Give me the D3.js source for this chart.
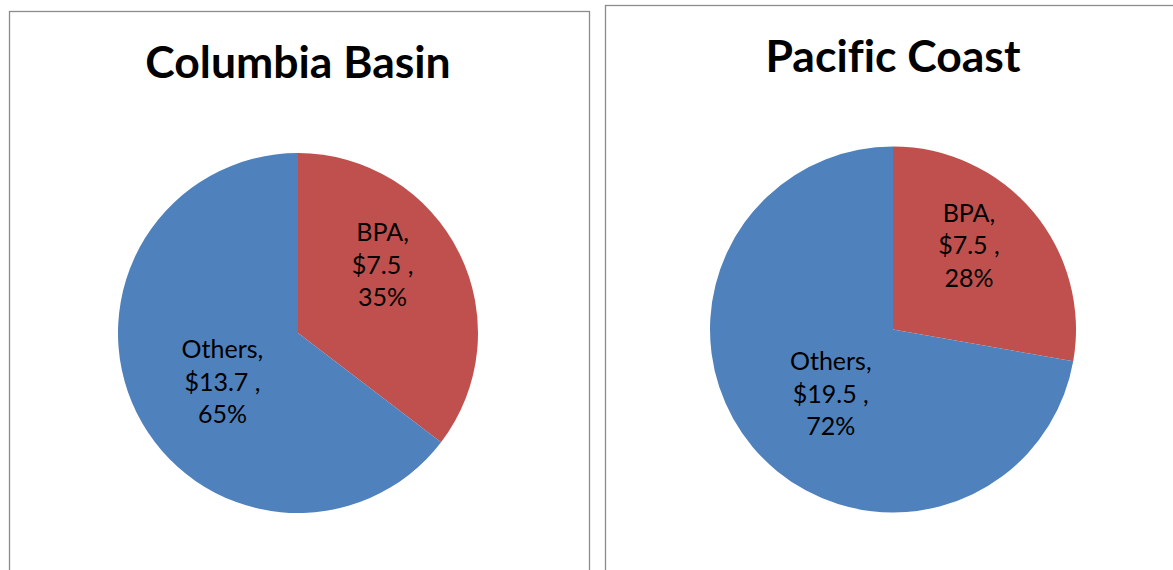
<!DOCTYPE html>
<html>
<head>
<meta charset="utf-8">
<script src="https://cdn.jsdelivr.net/npm/d3@7"></script>
<style>
body{margin:0;background:#fff;}
svg{display:block;}
</style>
</head>
<body>
<svg id="chart" width="1173" height="570"></svg>
<script>
// values ($ millions)
var titles = ["Columbia Basin", "Pacific Coast"];
var categories = ["BPA", "Others"];
var basinValues = [7.5, 13.7];
var coastValues = [7.5, 19.5];
var colors = ["#C0504D", "#4F81BD"];

var svg = d3.select("#chart");

// panel layout (pixels)
var panels = [
	{title: titles[0], values: basinValues, box: [9.5, 11.5, 580, 600], cx: 298, cy: 333, r: 180, ty: 78,
	 lab: [[0.47, -0.38], [-0.42, 0.27]]},
	{title: titles[1], values: coastValues, box: [605.5, 5.5, 600, 600], cx: 893, cy: 329.5, r: 183, ty: 72,
	 lab: [[0.415, -0.46], [-0.34, 0.35]]}
];

var pie = d3.pie().sort(null).value(function(d){return d;});

panels.forEach(function(p){
	var g = svg.append("g");
	g.append("rect")
		.attr("x", p.box[0]).attr("y", p.box[1])
		.attr("width", p.box[2]).attr("height", p.box[3])
		.attr("fill", "none").attr("stroke", "#8c8c8c").attr("stroke-width", 1.3);

	g.append("text")
		.attr("x", p.cx).attr("y", p.ty)
		.attr("text-anchor", "middle")
		.style("font-family", "Lato, 'Open Sans', sans-serif")
		.style("font-weight", "bold")
		.style("font-size", "44.5px")
		.style("font-variant-ligatures", "none")
		.text(p.title);

	var arc = d3.arc().innerRadius(0).outerRadius(p.r);
	var total = d3.sum(p.values);
	var pg = g.append("g").attr("transform", "translate(" + p.cx + "," + p.cy + ")");
	var slices = pie(p.values);

	pg.selectAll("path").data(slices).enter()
		.append("path")
		.attr("d", arc)
		.attr("fill", function(d, i){return colors[i];});

	slices.forEach(function(d, i){
		var lines = [categories[i] + ",", "$" + d.data.toFixed(1) + " ,", Math.round(d.data / total * 100) + "%"];
		var t = pg.append("text")
			.attr("text-anchor", "middle")
			.style("font-family", "Lato, 'Open Sans', sans-serif")
			.style("font-size", "25px")
			.attr("fill", "#000");
		lines.forEach(function(s, k){
			t.append("tspan")
				.attr("x", p.lab[i][0] * p.r)
				.attr("y", p.lab[i][1] * p.r + (k - 1) * 32.5 + 9)
				.text(s);
		});
	});
});
</script>
</body>
</html>
